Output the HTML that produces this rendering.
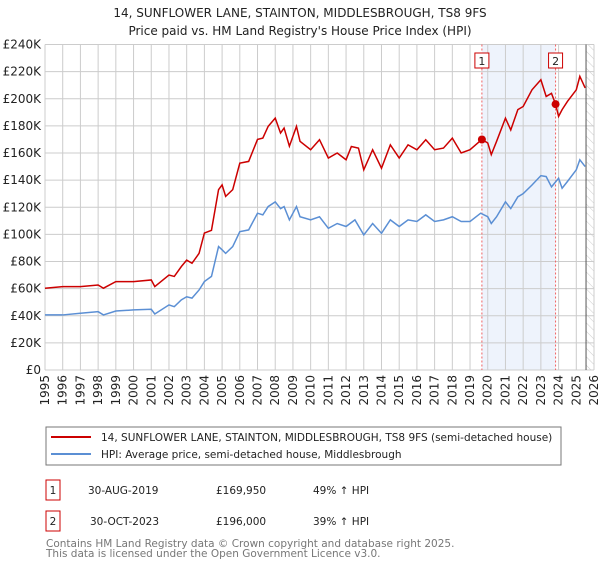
<!DOCTYPE html>
<html><head><meta charset="utf-8"><style>
body{margin:0;background:#fff;}
svg text{font-family:"DejaVu Sans","Liberation Sans",sans-serif;}
</style></head><body>
<svg id="chart" width="600" height="560" xmlns="http://www.w3.org/2000/svg">
<defs>
<pattern id="hatch" patternUnits="userSpaceOnUse" width="6" height="6" patternTransform="rotate(-45)">
<line x1="0" y1="0" x2="0" y2="6" stroke="#ccc" stroke-width="1"/>
</pattern>
</defs>
<text x="300" y="17" text-anchor="middle" font-size="12" fill="#222">14, SUNFLOWER LANE, STAINTON, MIDDLESBROUGH, TS8 9FS</text>
<text x="300" y="35" text-anchor="middle" font-size="12" fill="#222">Price paid vs. HM Land Registry's House Price Index (HPI)</text>
<g id="plot"></g>
<g>
<rect x="46" y="427" width="515" height="38" fill="#fff" stroke="#777"/>
<line x1="51" y1="437" x2="91" y2="437" stroke="#cc0000" stroke-width="2"/>
<text x="101" y="441" font-size="10.5" fill="#222">14, SUNFLOWER LANE, STAINTON, MIDDLESBROUGH, TS8 9FS (semi-detached house)</text>
<line x1="51" y1="454" x2="91" y2="454" stroke="#5b8fd4" stroke-width="2"/>
<text x="101" y="458" font-size="10.5" fill="#222">HPI: Average price, semi-detached house, Middlesbrough</text>
</g>
<g font-size="10.5" fill="#222">
<rect x="46" y="480" width="14" height="20" fill="#fff" stroke="#cc0000"/>
<text x="53" y="494" text-anchor="middle">1</text>
<text x="88" y="494">30-AUG-2019</text>
<text x="216" y="494">£169,950</text>
<text x="313" y="494">49% ↑ HPI</text>
<rect x="46" y="511" width="14" height="20" fill="#fff" stroke="#cc0000"/>
<text x="53" y="525" text-anchor="middle">2</text>
<text x="90" y="525">30-OCT-2023</text>
<text x="216" y="525">£196,000</text>
<text x="313" y="525">39% ↑ HPI</text>
</g>
<text x="46" y="547" font-size="10.5" fill="#777">Contains HM Land Registry data © Crown copyright and database right 2025.</text>
<text x="46" y="557" font-size="10.5" fill="#777">This data is licensed under the Open Government Licence v3.0.</text>
</svg>
<script>
const hpiYears=[1995,1996,1997,1998,1998.3,1999,2000,2001,2001.2,2002,2002.3,2002.7,2003,2003.3,2003.7,2004,2004.4,2004.8,2005,2005.2,2005.6,2006,2006.5,2007,2007.3,2007.6,2008,2008.3,2008.5,2008.8,2009.2,2009.4,2010,2010.5,2011,2011.5,2012,2012.5,2013,2013.5,2014,2014.5,2015,2015.5,2016,2016.5,2017,2017.5,2018,2018.5,2019,2019.6,2020,2020.2,2020.5,2021,2021.3,2021.7,2022,2022.5,2023,2023.3,2023.6,2024,2024.2,2024.5,2025,2025.2,2025.5];
const hpiValues=[40.6,40.6,41.8,43,40.6,43.5,44.3,44.8,41.3,48,46.7,51.7,54,53,59,65.2,69,91,88.6,86,91,102,103.3,115.6,114.4,120.5,124,119,120.5,110.7,120.5,113,110.7,113,104.5,108,105.8,110.7,99.6,108,100.8,110.7,105.8,110.7,109.5,114.4,109.5,110.7,113,109.5,109.5,115.6,113,108,113,124,119,127.7,130,136.4,143.3,142.6,135,141.4,134,139,147.6,155,150];
const priceYears=[1995,1996,1997,1998,1998.3,1999,2000,2001,2001.2,2002,2002.3,2002.7,2003,2003.3,2003.7,2004,2004.4,2004.8,2005,2005.2,2005.6,2006,2006.5,2007,2007.3,2007.6,2008,2008.3,2008.5,2008.8,2009.2,2009.4,2010,2010.5,2011,2011.5,2012,2012.3,2012.7,2013,2013.5,2014,2014.5,2015,2015.5,2016,2016.5,2017,2017.5,2018,2018.5,2019,2019.67,2020,2020.2,2020.5,2021,2021.3,2021.7,2022,2022.5,2023,2023.3,2023.6,2023.83,2024,2024.2,2024.5,2025,2025.2,2025.5];
const priceValues=[60.3,61.5,61.5,62.7,60.3,65.2,65.2,66.4,61.5,70,69,76.3,81,78.7,86,101,103,133,136.5,128,133,152.5,153.8,170,171,179.6,185.7,174.7,178.4,165,179.6,168.6,162.4,169.8,156.3,160,155,164.8,163.6,147.6,162.4,148.8,166,156.3,166,162.4,169.8,162.4,163.6,171,160,162.4,170,167.4,158.8,168.6,185.7,177,192,194.3,206.6,214,201.7,204,196,187,192,198,206.6,216.5,208];
const saleYears=[2019.67,2023.83];
const saleValues=[169.95,196];
const saleLabels=['1','2'];
const yTicks=[0,20,40,60,80,100,120,140,160,180,200,220,240];
const xTicks=[1995,1996,1997,1998,1999,2000,2001,2002,2003,2004,2005,2006,2007,2008,2009,2010,2011,2012,2013,2014,2015,2016,2017,2018,2019,2020,2021,2022,2023,2024,2025,2026];

const X0=45,X1=594,Y0=370,Y1=44.5;
const x=v=>X0+(v-1995)/(2026-1995)*(X1-X0);
const y=v=>Y0-v/240*(Y0-Y1);
const NS='http://www.w3.org/2000/svg';
const g=document.getElementById('plot');
function mk(tag,attrs){const e=document.createElementNS(NS,tag);for(const k in attrs)e.setAttribute(k,attrs[k]);g.appendChild(e);return e;}

let e=mk('rect',{x:x(saleYears[0]),y:Y1,width:x(saleYears[1])-x(saleYears[0]),height:Y0-Y1,fill:'#eef3fc'});


e=mk('rect',{x:x(2025.55),y:Y1,width:X1-x(2025.55),height:Y0-Y1,fill:'url(#hatch)'});



yTicks.forEach(t=>{
 let l=mk('line',{x1:X0,x2:X1,y1:y(t),y2:y(t),stroke:'#ccc','stroke-width':1});
 
 
 let tx=mk('text',{x:X0-4,y:y(t)+4,'text-anchor':'end','font-size':12,fill:'#222'});
 tx.textContent=t===0?'£0':'£'+t+'K';
 
 
});
xTicks.forEach(t=>{
 let l=mk('line',{x1:x(t),x2:x(t),y1:Y1,y2:Y0,stroke:'#ccc','stroke-width':1});
 
 
 let tx=mk('text',{x:0,y:0,'text-anchor':'end','font-size':12,fill:'#222',transform:`translate(${x(t)+4},${Y0+5}) rotate(-90)`});
 tx.textContent=t;
 
 
});
e=mk('line',{x1:x(2025.55),x2:x(2025.55),y1:Y1,y2:Y0,stroke:'#555','stroke-width':1});



saleYears.forEach((s,i)=>{
 let l=mk('line',{x1:x(s),x2:x(s),y1:Y1,y2:Y0,stroke:'#f06060','stroke-width':1,'stroke-dasharray':'2,2'});
 
 
});

e=mk('polyline',{points:hpiYears.map((t,i)=>x(t)+','+y(hpiValues[i])).join(' '),fill:'none',stroke:'#5b8fd4','stroke-width':1.5});


e=mk('polyline',{points:priceYears.map((t,i)=>x(t)+','+y(priceValues[i])).join(' '),fill:'none',stroke:'#cc0000','stroke-width':1.5});



saleYears.forEach((s,i)=>{
 let c=mk('circle',{cx:x(s),cy:y(saleValues[i]),r:4,fill:'#cc0000'});
 
 
 let r=mk('rect',{x:x(s)-7,y:53,width:14,height:15,fill:'#fff',stroke:'#cc0000'});
 
 
 let tx=mk('text',{x:x(s),y:65,'text-anchor':'middle','font-size':11,fill:'#222'});
 tx.textContent=saleLabels[i];
 
 
});
</script>
</body></html>
